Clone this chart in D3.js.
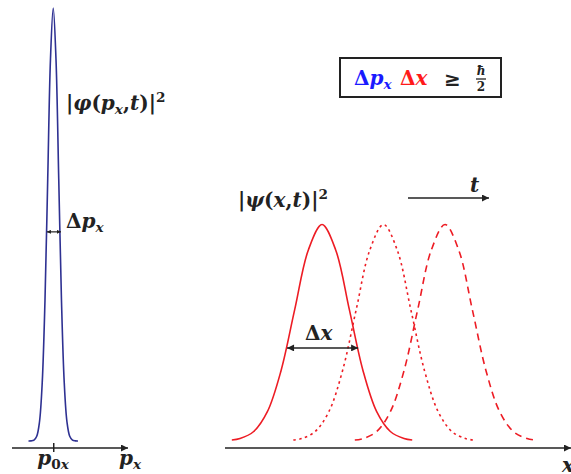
<!DOCTYPE html>
<html>
<head>
<meta charset="utf-8">
<script src="https://cdn.jsdelivr.net/npm/d3@7"></script>
<style>
  body { margin: 0; background: #fff; }
</style>
</head>
<body>
<svg id="chart" width="571" height="474"></svg>
<script>
var width = 571;
var height = 474;

// momentum packet (left), in units of its width
var pTicks = [0];
var blueOffsets = [-4.5, -4, -3.5, -3, -2.5, -2, -1.5, -1, -0.5, 0, 0.5, 1, 1.5, 2, 2.5, 3, 3.5, 4, 4.5];
var blueHeights = [0, 0.0003, 0.0022, 0.0111, 0.0439, 0.1353, 0.3247, 0.6065, 0.8825, 1,
                   0.8825, 0.6065, 0.3247, 0.1353, 0.0439, 0.0111, 0.0022, 0.0003, 0];

// position packets (right), three moments in time
var redOffsets = [-3.3, -3, -2.5, -2, -1.5, -1, -0.5, 0, 0.5, 1, 1.5, 2, 2.5, 3, 3.3];
var redHeights = [0.0043, 0.0111, 0.0439, 0.1353, 0.3247, 0.6065, 0.8825, 1,
                  0.8825, 0.6065, 0.3247, 0.1353, 0.0439, 0.0111, 0.0043];
var redCenters = [0, 2.25, 4.5];
var redDash = [null, "2.5,3.5", "7,5"];
var redAmp = 0.5;

// width markers: [from, to, height]
var deltaP = [-1.15, 1.4, 0.483];
var deltaX = [-1.28, 1.32, 0.215];

var blue = "#2e3192";
var red = "#ed1c24";
var fontFam = "'DejaVu Serif', 'Liberation Serif', serif";

var svg = d3.select("#chart");

var defs = svg.append("defs");
function marker(id, w, h) {
  defs.append("marker")
    .attr("id", id)
    .attr("viewBox", "0 0 10 10")
    .attr("refX", 10).attr("refY", 5)
    .attr("markerUnits", "userSpaceOnUse")
    .attr("markerWidth", w).attr("markerHeight", h)
    .attr("orient", "auto-start-reverse")
    .append("path")
    .attr("d", "M0,0 L10,5 L0,10 Z")
    .attr("fill", "#222");
}
marker("arrow", 9, 7);
marker("small", 4, 4);

var yScale = d3.scaleLinear().domain([0, 1]).range([441, 8]);
var pScale = d3.scaleLinear().domain([-7.5, 13.6]).range([12, 128]);
var xScale = d3.scaleLinear().domain([-3.55, 9.0]).range([225, 568]);

var line = function(sc, center, amp) {
  return d3.line()
    .x(function(d) { return sc(center + d[0]); })
    .y(function(d) { return yScale(amp * d[1]); })
    .curve(d3.curveCatmullRom);
};

// left axis
var gl = svg.append("g").attr("transform", "translate(0,448)");
gl.call(d3.axisBottom(pScale).tickValues(pTicks).tickFormat("").tickSizeOuter(0));
gl.select(".domain").remove();
gl.selectAll(".tick line").attr("y1", -5).attr("y2", 4).attr("stroke", "#222").attr("stroke-width", 1.5);
svg.append("line")
  .attr("x1", pScale.range()[0]).attr("x2", pScale.range()[1])
  .attr("y1", 448).attr("y2", 448)
  .attr("stroke", "#222").attr("stroke-width", 1.5)
  .attr("marker-end", "url(#arrow)");

// right axis
svg.append("line")
  .attr("x1", xScale.range()[0]).attr("x2", xScale.range()[1] + 3)
  .attr("y1", 448).attr("y2", 448)
  .attr("stroke", "#222").attr("stroke-width", 1.5)
  .attr("marker-end", "url(#arrow)");

// blue packet
svg.append("path")
  .datum(d3.zip(blueOffsets, blueHeights))
  .attr("d", line(pScale, 0, 1))
  .attr("fill", "none").attr("stroke", blue).attr("stroke-width", 1.6);

// red packets
redCenters.forEach(function(c, i) {
  svg.append("path")
    .datum(d3.zip(redOffsets, redHeights))
    .attr("d", line(xScale, c, redAmp))
    .attr("fill", "none").attr("stroke", red).attr("stroke-width", 1.6)
    .attr("stroke-dasharray", redDash[i]);
});

// width arrows
svg.append("line")
  .attr("x1", pScale(deltaP[0])).attr("x2", pScale(deltaP[1]))
  .attr("y1", yScale(deltaP[2])).attr("y2", yScale(deltaP[2]))
  .attr("stroke", "#222").attr("stroke-width", 1.2)
  .attr("marker-start", "url(#small)").attr("marker-end", "url(#small)");
svg.append("line")
  .attr("x1", xScale(deltaX[0])).attr("x2", xScale(deltaX[1]))
  .attr("y1", yScale(deltaX[2])).attr("y2", yScale(deltaX[2]))
  .attr("stroke", "#222").attr("stroke-width", 1.5)
  .attr("marker-start", "url(#arrow)").attr("marker-end", "url(#arrow)");

// time arrow
svg.append("line")
  .attr("x1", 408).attr("x2", 489).attr("y1", 198).attr("y2", 198)
  .attr("stroke", "#222").attr("stroke-width", 1.5)
  .attr("marker-end", "url(#arrow)");

// math labels: parts are [text, italic, level, colour]
function label(x, y, parts, size, color, anchor) {
  var t = svg.append("text")
    .attr("x", x).attr("y", y)
    .attr("font-family", fontFam)
    .attr("font-weight", "bold")
    .attr("font-size", size)
    .attr("fill", color || "#222")
    .attr("text-anchor", anchor || "start");
  var cur = 0;
  parts.forEach(function(p) {
    var shift = 0, fs = size;
    if (p[2] === "sub") { shift = size * 0.22; fs = size * 0.68; }
    if (p[2] === "sup") { shift = -size * 0.4; fs = size * 0.68; }
    var s = t.append("tspan").text(p[0])
      .attr("font-style", p[1] ? "italic" : "normal")
      .attr("font-size", fs)
      .attr("dy", shift - cur);
    cur = shift;
    if (p[3]) s.attr("fill", p[3]);
  });
  return t;
}

label(66, 110, [["|", 0], ["φ", 1], ["(", 0], ["p", 1], ["x", 1, "sub"], [",", 0], ["t", 1], [")|", 0], ["2", 0, "sup"]], 20);
label(66, 228, [["Δ", 0], ["p", 1], ["x", 1, "sub"]], 20);
label(53, 465, [["p", 1], ["0", 0, "sub"], ["x", 1, "sub"]], 20, null, "middle");
label(119, 465, [["p", 1], ["x", 1, "sub"]], 20);
label(238, 207, [["|", 0], ["ψ", 1], ["(", 0], ["x", 1], [",", 0], ["t", 1], [")|", 0], ["2", 0, "sup"]], 20);
label(470, 192, [["t", 1]], 20);
label(305, 340, [["Δ", 0], ["x", 1]], 20);
label(562, 472, [["x", 1]], 20);

// relation box
svg.append("rect")
  .attr("x", 340).attr("y", 58).attr("width", 161).attr("height", 39)
  .attr("fill", "none").attr("stroke", "#222").attr("stroke-width", 2);
label(354, 85, [["Δ", 0, null, "#1a1aff"], ["p", 1, null, "#1a1aff"], ["x", 1, "sub", "#1a1aff"]], 20);
label(400, 85, [["Δ", 0, null, "#ff1a1a"], ["x", 1, null, "#ff1a1a"]], 20);
label(444, 86, [["≥", 0]], 20);
label(481, 75, [["ħ", 1]], 12, null, "middle");
svg.append("line").attr("x1", 476).attr("x2", 486).attr("y1", 79).attr("y2", 79)
  .attr("stroke", "#222").attr("stroke-width", 1.3);
label(481, 91, [["2", 0]], 12, null, "middle");
</script>
</body>
</html>
